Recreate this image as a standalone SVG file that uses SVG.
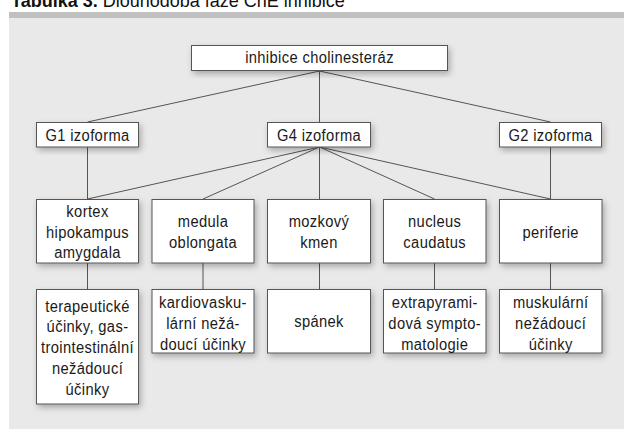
<svg xmlns="http://www.w3.org/2000/svg" width="624" height="429" viewBox="0 0 624 429">
<defs>
<filter id="sh" x="-20%" y="-20%" width="140%" height="150%">
<feDropShadow dx="2" dy="3" stdDeviation="3" flood-color="#000" flood-opacity="0.28"/>
</filter>
</defs>
<style>
.box{fill:#fff;stroke:#555;stroke-width:1;filter:url(#sh)}
.t{font-family:"Liberation Sans",Arial,sans-serif;font-size:16px;fill:#1a1a1a;text-anchor:middle;letter-spacing:0.4px;transform-box:fill-box;transform-origin:center;transform:scaleX(0.92)}
.c line{stroke:#555;stroke-width:1}
.title{font-family:"Liberation Sans",Arial,sans-serif;font-size:18px;fill:#111}
</style>
<rect x="0" y="0" width="624" height="429" fill="#fff"/>
<text class="title" x="11" y="7"><tspan font-weight="bold">Tabulka 3.</tspan> Dlouhodobá fáze ChE inhibice</text>
<rect x="9" y="12" width="615" height="6" fill="#c0c0c0"/>
<rect x="9" y="18" width="615" height="411" fill="#e9e9e9"/>
<g class="c" id="connectors">
<line x1="319.5" y1="71" x2="319.5" y2="122"/>
<line x1="319.5" y1="71" x2="87.5" y2="122"/>
<line x1="319.5" y1="71" x2="550.5" y2="122"/>
<line x1="87.5" y1="147" x2="87.5" y2="199"/>
<line x1="319.5" y1="147" x2="87.5" y2="199"/>
<line x1="319.5" y1="147" x2="203" y2="199"/>
<line x1="319.5" y1="147" x2="319.5" y2="199"/>
<line x1="319.5" y1="147" x2="434.5" y2="199"/>
<line x1="319.5" y1="147" x2="550.5" y2="199"/>
<line x1="550.5" y1="147" x2="550.5" y2="199"/>
<line x1="87.5" y1="263" x2="87.5" y2="289"/>
<line x1="203" y1="263" x2="203" y2="289"/>
<line x1="319.5" y1="263" x2="319.5" y2="289"/>
<line x1="434.5" y1="263" x2="434.5" y2="289"/>
<line x1="550.5" y1="263" x2="550.5" y2="289"/>
</g>
<g id="root"><rect class="box" x="191.5" y="45.5" width="256" height="25"/><text class="t" x="319.5" y="63.5">inhibice cholinesteráz</text></g>
<g id="g1"><rect class="box" x="36.5" y="122.5" width="102" height="24.5"/><text class="t" x="87.5" y="141.5">G1 izoforma</text></g>
<g id="g4"><rect class="box" x="267.5" y="122.5" width="103" height="24.5"/><text class="t" x="319" y="141.5">G4 izoforma</text></g>
<g id="g2"><rect class="box" x="499.5" y="122.5" width="102" height="24.5"/><text class="t" x="550.5" y="141.5">G2 izoforma</text></g>
<g id="kortex"><rect class="box" x="36.5" y="199.5" width="102" height="63.5"/><text class="t" x="87.5" y="217.5">kortex<tspan x="87.5" y="238.2">hipokampus</tspan><tspan x="87.5" y="258.5">amygdala</tspan></text></g>
<g id="medula"><rect class="box" x="152" y="199.5" width="102" height="63.5"/><text class="t" x="203" y="227.3">medula<tspan x="203" y="248.3">oblongata</tspan></text></g>
<g id="mozkovy"><rect class="box" x="267.5" y="199.5" width="103" height="63.5"/><text class="t" x="319" y="227.3">mozkový<tspan x="319" y="248.3">kmen</tspan></text></g>
<g id="nucleus"><rect class="box" x="383.5" y="199.5" width="102.5" height="63.5"/><text class="t" x="434.7" y="227.3">nucleus<tspan x="434.7" y="248.3">caudatus</tspan></text></g>
<g id="periferie"><rect class="box" x="499.5" y="199.5" width="102.5" height="63.5"/><text class="t" x="550.7" y="238.3">periferie</text></g>
<g id="terapeuticke"><rect class="box" x="36.5" y="289.5" width="102" height="114.5"/><text class="t" x="87.5" y="311.7">terapeutické<tspan x="87.5" y="332.5">účinky, gas-</tspan><tspan x="87.5" y="353.3">trointestinální</tspan><tspan x="87.5" y="374.2">nežádoucí</tspan><tspan x="87.5" y="395">účinky</tspan></text></g>
<g id="kardio"><rect class="box" x="152" y="289.5" width="102" height="63.5"/><text class="t" x="203" y="308.3">kardiovasku-<tspan x="203" y="329.2">lární nežá-</tspan><tspan x="203" y="350">doucí účinky</tspan></text></g>
<g id="spanek"><rect class="box" x="267.5" y="289.5" width="103" height="63.5"/><text class="t" x="319" y="326.8">spánek</text></g>
<g id="extra"><rect class="box" x="383.5" y="289.5" width="102.5" height="63.5"/><text class="t" x="434.7" y="308.3">extrapyrami-<tspan x="434.7" y="329.2">dová sympto-</tspan><tspan x="434.7" y="350">matologie</tspan></text></g>
<g id="muskularni"><rect class="box" x="499.5" y="289.5" width="102.5" height="63.5"/><text class="t" x="550.7" y="308.3">muskulární<tspan x="550.7" y="329.2">nežádoucí</tspan><tspan x="550.7" y="350">účinky</tspan></text></g>
</svg>
